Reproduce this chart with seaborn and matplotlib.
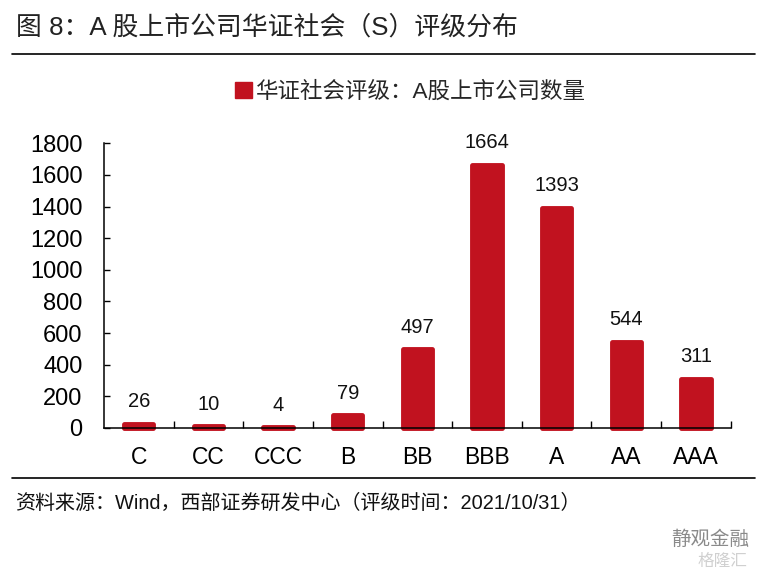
import matplotlib
matplotlib.use('Agg')
import matplotlib.pyplot as plt
import seaborn as sns
from matplotlib.patches import Patch
from matplotlib.lines import Line2D

# Data
ratings = ['C', 'CC', 'CCC', 'B', 'BB', 'BBB', 'A', 'AA', 'AAA']
counts = [26, 10, 4, 79, 497, 1664, 1393, 544, 311]
y_ticks = [0, 200, 400, 600, 800, 1000, 1200, 1400, 1600, 1800]

title_text = '图 8：A 股上市公司华证社会（S）评级分布'
legend_text = '华证社会评级：A股上市公司数量'
source_text = '资料来源：Wind，西部证券研发中心（评级时间：2021/10/31）'

BAR_RED = '#C1121F'

sns.set_style('white')
plt.rcParams['font.family'] = ['Liberation Sans', 'Noto Sans CJK SC', 'DejaVu Sans']
plt.rcParams['axes.unicode_minus'] = False

fig = plt.figure(figsize=(7.67, 5.73), dpi=100)
ax = fig.add_axes([0.1356, 0.2531, 0.8171, 0.4968])

sns.barplot(x=ratings, y=counts, color=BAR_RED, saturation=1, width=0.42,
            edgecolor=BAR_RED, linewidth=3.5, ax=ax)
for p in ax.patches:
    p.set_clip_on(False)
    p.set_joinstyle('round')

ax.bar_label(ax.containers[0], labels=[str(v) for v in counts],
             padding=9, fontsize=14.5, color='#111111')

ax.set_xlim(-0.5, len(ratings) - 0.5)
ax.set_ylim(0, 1800)
ax.set_yticks(y_ticks)
ax.set_xlabel('')
ax.set_ylabel('')

for side in ['top', 'right']:
    ax.spines[side].set_visible(False)
for side in ['left', 'bottom']:
    ax.spines[side].set_color('black')
    ax.spines[side].set_linewidth(1.1)

ax.tick_params(axis='y', direction='in', length=4, width=1, pad=15.5,
               labelsize=17, left=True, colors='black')
ax.tick_params(axis='x', which='major', length=0, pad=13, labelsize=16.5,
               colors='black')
ax.set_xticks([i + 0.5 for i in range(len(ratings))], minor=True)
ax.tick_params(axis='x', which='minor', direction='in', length=5, width=1,
               bottom=True, color='black')

# Title and rules
fig.text(0.021, 0.953, title_text, fontsize=18.6, color='#222222',
         ha='left', va='center')
fig.add_artist(Line2D([0.016, 0.984], [1 - 54 / 573, 1 - 54 / 573],
                      color='black', linewidth=1.2))
fig.add_artist(Line2D([0.016, 0.984], [1 - 478 / 573, 1 - 478 / 573],
                      color='black', linewidth=1.2))

fig.legend(handles=[Patch(facecolor=BAR_RED, edgecolor=BAR_RED)],
           labels=[legend_text], loc='center', bbox_to_anchor=(0.535, 0.839),
           frameon=False, fontsize=16.2, handlelength=0.75, handleheight=0.75,
           handletextpad=0.15)

fig.text(0.02, 1 - 503 / 573, source_text, fontsize=14.4, color='#111111',
         ha='left', va='center')

# Watermarks
fig.text(0.875, 1 - 540 / 573, '静观金融', fontsize=14, color='#8a8a8a',
         ha='left', va='center')
fig.text(0.91, 1 - 561 / 573, '格隆汇', fontsize=12, color='#d0d0d0',
         ha='left', va='center')

fig.savefig('out.png', dpi=100)
